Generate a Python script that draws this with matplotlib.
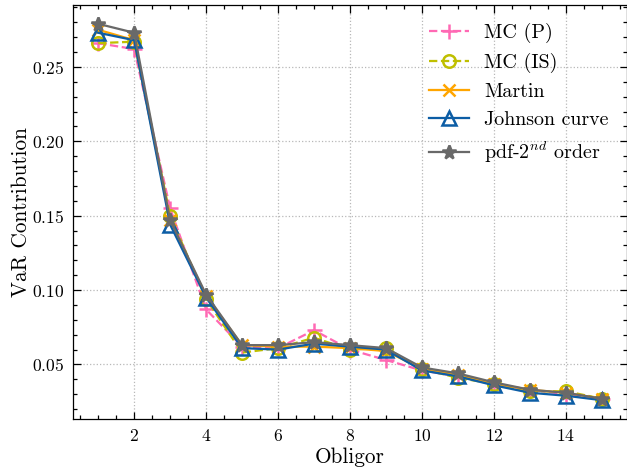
import matplotlib
matplotlib.use("Agg")
import matplotlib.pyplot as plt

plt.rcParams.update({
    "font.family": "serif",
    "font.serif": ["cmr10"],
    "mathtext.fontset": "cm",
    "axes.formatter.use_mathtext": True,
    "font.size": 8,
    "axes.labelsize": 8.5,
    "xtick.labelsize": 7,
    "ytick.labelsize": 7,
    "axes.linewidth": 0.5,
    "xtick.direction": "in",
    "ytick.direction": "in",
    "xtick.top": True,
    "ytick.right": True,
    "xtick.minor.visible": True,
    "ytick.minor.visible": True,
    "xtick.major.size": 3,
    "ytick.major.size": 3,
    "xtick.minor.size": 1.5,
    "ytick.minor.size": 1.5,
    "xtick.major.width": 0.5,
    "ytick.major.width": 0.5,
    "xtick.minor.width": 0.5,
    "ytick.minor.width": 0.5,
    "lines.linewidth": 0.9,
})

obligors = list(range(1, 16))
mc_p = [0.266, 0.262, 0.155, 0.087, 0.062, 0.061, 0.073, 0.060, 0.053,
        0.046, 0.042, 0.037, 0.033, 0.030, 0.027]
mc_is = [0.266, 0.267, 0.150, 0.094, 0.058, 0.061, 0.068, 0.060, 0.061,
         0.047, 0.041, 0.037, 0.032, 0.032, 0.027]
martin = [0.275, 0.268, 0.147, 0.096, 0.063, 0.062, 0.062, 0.061, 0.059,
          0.047, 0.043, 0.037, 0.033, 0.031, 0.027]
johnson = [0.273, 0.268, 0.144, 0.095, 0.061, 0.060, 0.064, 0.062, 0.060,
           0.046, 0.042, 0.036, 0.031, 0.029, 0.026]
pdf2 = [0.279, 0.273, 0.147, 0.097, 0.063, 0.063, 0.065, 0.063, 0.061,
        0.048, 0.044, 0.038, 0.033, 0.031, 0.027]

dpi = 180
fig = plt.figure(figsize=(627 / dpi, 473 / dpi), dpi=dpi)
ax = fig.add_axes([73 / 627, 1 - 419 / 473, 554 / 627, 414 / 473])

ms = 5
ax.plot(obligors, mc_p, ls="--", color="#ff69b4", marker="+", ms=ms + 1,
        label="MC (P)")
ax.plot(obligors, mc_is, ls="--", color="#bfbf00", marker="o", ms=ms,
        mfc="none", label="MC (IS)")
ax.plot(obligors, martin, ls="-", color="#ffa500", marker="x", ms=ms,
        label="Martin")
ax.plot(obligors, johnson, ls="-", color="#0c5da5", marker="^", ms=ms + 0.5,
        mfc="none", label="Johnson curve")
ax.plot(obligors, pdf2, ls="-", color="#696969", marker="*", ms=ms + 0.5,
        label=r"pdf-2$^{nd}$ order")

ax.grid(True, which="major", ls=":", color="#b8b8b8", lw=0.5)
ax.set_xlabel("Obligor", labelpad=1.5)
ax.set_ylabel("VaR Contribution", labelpad=0.5)
ax.legend(loc="upper right", frameon=False)

fig.savefig("out.png", dpi=dpi)
